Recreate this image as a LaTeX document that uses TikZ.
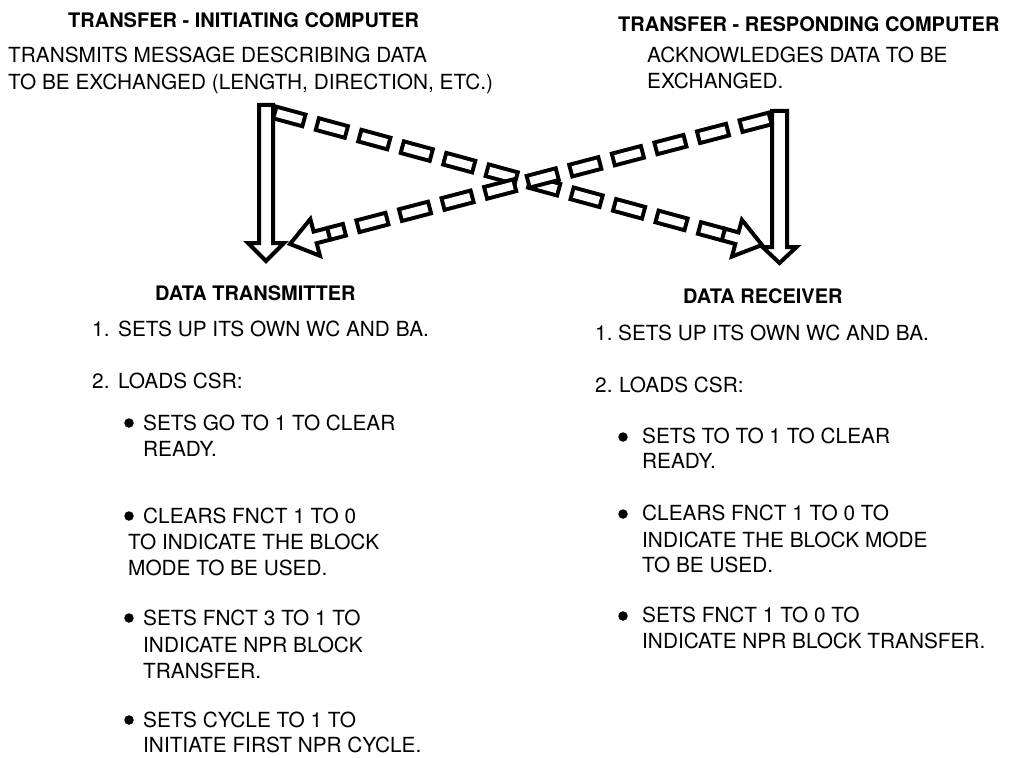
\documentclass[tikz,border=0pt]{standalone}
\usepackage{fontspec}
\setmainfont{TeX Gyre Heros}
\usetikzlibrary{calc,positioning}
\newcommand\bodyfont{\fontsize{20.8}{24}\selectfont}
\newcommand\headfont{\fontsize{20}{24}\selectfont\bfseries}
\tikzset{
  body/.style={anchor=base west, inner sep=0pt, font=\bodyfont},
  headline/.style={body, font=\headfont},
  bul/.style={circle, fill, inner sep=0pt, minimum size=9.5pt},
  hollow/.style={draw, line width=4pt, fill=white, line join=miter},
  dashout/.style={line width=16pt, dash pattern=on 34pt off 10pt},
  dashin/.style={white, line width=8pt, dash pattern=on 26pt off 18pt, dash phase=40pt},
}
\begin{document}
\begin{tikzpicture}[x=1pt, y=-1pt]
        \useasboundingbox (0,0) rectangle (1019,757);

        %% top: the two computers
        \node [headline] (init_title) at (68,28) {TRANSFER - INITIATING COMPUTER};
        \foreach \y/\t in {63/{TRANSMITS MESSAGE DESCRIBING DATA},
                           90/{TO BE EXCHANGED (LENGTH, DIRECTION, ETC.)}} {
          \node [body,name=init_li_\y] at (8,\y) {\t};
        }
        \node [headline] (resp_title) at (618,32) {TRANSFER - RESPONDING COMPUTER};
        \foreach \y/\t in {63/{ACKNOWLEDGES DATA TO BE}, 89/{EXCHANGED.}} {
          \node [body,name=resp_li_\y] at (647,\y) {\t};
        }

        %% left: data transmitter
        \node [headline] (tx_title) at (155,300) {DATA TRANSMITTER};
        \node [body] (tx_n1) at (92,336) {1.};
        \node [body] (tx_li_1) at (118,336) {SETS UP ITS OWN WC AND BA.};
        \node [body] (tx_n2) at (92,388) {2.};
        \node [body] (tx_li_2) at (118,388) {LOADS CSR:};
        \foreach \y in {423,516,618,720} {
          \node [bul,name=tx_bul_\y] at (129,\y) {};
        }
        \foreach \x/\y/\t in {143/430/{SETS GO TO 1 TO CLEAR}, 143/456/{READY.},
                              143/523/{CLEARS FNCT 1 TO 0}, 128/549/{TO INDICATE THE BLOCK},
                              128/575/{MODE TO BE USED.},
                              143/625/{SETS FNCT 3 TO 1 TO}, 143/652/{INDICATE NPR BLOCK},
                              143/678/{TRANSFER.},
                              143/727/{SETS CYCLE TO 1 TO}, 143/752/{INITIATE FIRST NPR CYCLE.}} {
          \node [body,name=tx_li_\y] at (\x,\y) {\t};
        }

        %% right: data receiver
        \node [headline] (rx_title) at (683,303) {DATA RECEIVER};
        \node [body] (rx_n1) at (595,340) {1.};
        \node [body] (rx_li_1) at (618,340) {SETS UP ITS OWN WC AND BA.};
        \node [body] (rx_n2) at (595,392) {2.};
        \node [body] (rx_li_2) at (619,392) {LOADS CSR:};
        \foreach \y in {437,514,616} {
          \node [bul,name=rx_bul_\y] at (623,\y) {};
        }
        \foreach \y/\t in {443/{SETS TO TO 1 TO CLEAR}, 468/{READY.},
                           520/{CLEARS FNCT 1 TO 0 TO}, 547/{INDICATE THE BLOCK MODE},
                           572/{TO BE USED.},
                           622/{SETS FNCT 1 TO 0 TO}, 648/{INDICATE NPR BLOCK TRANSFER.}} {
          \node [body,name=rx_li_\y] at (642,\y) {\t};
        }

        %% hollow down arrows
        \coordinate (init_top) at (266,105);
        \coordinate (init_tip) at (266,261);
        \coordinate (resp_top) at (779.5,111);
        \coordinate (resp_tip) at (779.5,263);
        \draw [hollow] ($(init_top)+(-7,0)$) -- ($(init_tip)+(-7,-18)$) -- ($(init_tip)+(-18,-18)$)
          -- (init_tip) -- ($(init_tip)+(18,-18)$) -- ($(init_tip)+(7,-18)$) -- ($(init_top)+(7,0)$) -- cycle;
        \draw [hollow] ($(resp_top)+(-7.5,0)$) -- ($(resp_tip)+(-7.5,-16)$) -- ($(resp_tip)+(-17,-16)$)
          -- (resp_tip) -- ($(resp_tip)+(17,-16)$) -- ($(resp_tip)+(7.5,-16)$) -- ($(resp_top)+(7.5,0)$) -- cycle;

        %% dashed hollow arrows crossing over
        \coordinate (sA) at (273,112);
        \coordinate (tA) at (762,245);
        \coordinate (sB) at (772,118);
        \coordinate (tB) at (290,244);
        \coordinate (hA1) at ($(tA)!26pt!(sA)$);
        \coordinate (hA2) at ($(tA)!40pt!(sA)$);
        \coordinate (hB1) at ($(tB)!26pt!(sB)$);
        \coordinate (hB2) at ($(tB)!40pt!(sB)$);

        \draw [dashout] (sA) -- (hA2);
        \draw [dashin] (sA) -- (hA2);
        \draw [hollow] (tA) -- ($(hA1)!19pt!90:(tA)$) -- ($(hA1)!6pt!90:(tA)$) -- ($(hA2)!6pt!90:(tA)$)
          -- ($(hA2)!6pt!-90:(tA)$) -- ($(hA1)!6pt!-90:(tA)$) -- ($(hA1)!19pt!-90:(tA)$) -- cycle;

        \draw [dashout] (sB) -- (hB2);
        \draw [dashin] (sB) -- (hB2);
        \draw [hollow] (tB) -- ($(hB1)!19pt!90:(tB)$) -- ($(hB1)!6pt!90:(tB)$) -- ($(hB2)!6pt!90:(tB)$)
          -- ($(hB2)!6pt!-90:(tB)$) -- ($(hB1)!6pt!-90:(tB)$) -- ($(hB1)!19pt!-90:(tB)$) -- cycle;

\end{tikzpicture}
\end{document}
